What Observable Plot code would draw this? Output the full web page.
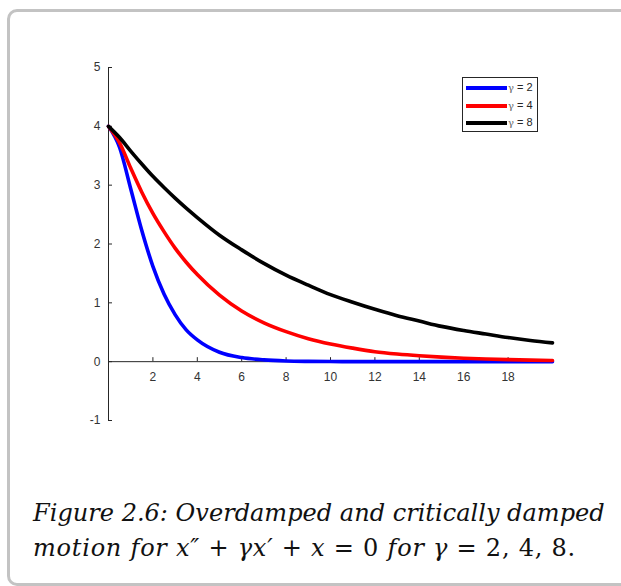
<!DOCTYPE html>
<html>
<head>
<meta charset="utf-8">
<script src="https://cdn.jsdelivr.net/npm/d3@7"></script>
<script src="https://cdn.jsdelivr.net/npm/@observablehq/plot@0.6"></script>
<style>
  html, body { margin: 0; padding: 0; background: #fff; width: 621px; height: 586px; overflow: hidden; }
  #clip { position: absolute; left: 0; top: 0; width: 621px; height: 586px; overflow: hidden; }
  #frame { position: absolute; left: 7px; top: 9px; width: 680px; height: 577px; box-sizing: border-box;
           border: 3px solid #c3c3c3; border-radius: 10px; }
  #chart { position: absolute; left: 0; top: 0; }
  #legend { position: absolute; left: 462px; top: 77px; width: 76px; height: 55px; box-sizing: border-box;
            border: 1px solid #262626; background: #fff; font: 11px "Liberation Sans", Arial, sans-serif; color: #262626; }
  .row { position: absolute; left: 0; height: 10px; }
  .sw { position: absolute; left: 3px; width: 41px; height: 4px; }
  .lt { position: absolute; left: 45px; top: -5px; white-space: nowrap; line-height: 13px; }
  .lt .g { color: #666; font-family: "DejaVu Serif", serif; font-size: 10px; }
  .cap { position: absolute; left: 33px; white-space: nowrap; font-family: "DejaVu Serif", serif; font-size: 20px;
         line-height: 20px; color: #111; }
  .cap i { font-style: italic; }
  .cap .u { font-style: normal; }
</style>
</head>
<body>
<div id="clip"><div id="frame"></div></div>
<div id="chart"></div>
<div id="legend"></div>
<div class="cap" id="cap1"><i>Figure 2.6: Overdamped and critically damped</i></div>
<div class="cap" id="cap2"><i>motion for x″</i><span class="u"> + </span><i>γx′</i><span class="u"> + </span><i>x</i><span class="u"> = 0 </span><i>for γ</i><span class="u"> = 2, 4, 8.</span></div>
<script>
// time samples (x axis)
const t = [0, 0.5, 1, 1.5, 2, 2.5, 3, 3.5, 4, 5, 6, 7, 8, 9, 10, 11, 12, 13, 14, 15, 16, 17, 18, 19, 20];
// curve values
const gamma2 = [4, 3.64, 2.94, 2.23, 1.62, 1.15, 0.80, 0.54, 0.37, 0.16, 0.07, 0.03, 0.012, 0.005, 0.002, 0.001, 0, 0, 0, 0, 0, 0, 0, 0, 0];
const gamma4 = [4, 3.72, 3.29, 2.88, 2.52, 2.21, 1.93, 1.69, 1.48, 1.13, 0.86, 0.66, 0.51, 0.39, 0.30, 0.23, 0.17, 0.13, 0.10, 0.077, 0.059, 0.045, 0.035, 0.027, 0.020];
const gamma8 = [4, 3.81, 3.58, 3.36, 3.15, 2.96, 2.78, 2.61, 2.45, 2.15, 1.90, 1.67, 1.47, 1.30, 1.14, 1.01, 0.89, 0.78, 0.69, 0.60, 0.53, 0.47, 0.41, 0.36, 0.32];
const seriesLabels = ["γ = 2", "γ = 4", "γ = 8"];
const seriesColors = ["#0000ff", "#ff0000", "#000000"];
const xTicks = [2, 4, 6, 8, 10, 12, 14, 16, 18];
const yTicks = [-1, 0, 1, 2, 3, 4, 5];

const seriesValues = [gamma2, gamma4, gamma8];
const rows = [];
seriesValues.forEach((vals, s) => t.forEach((ti, i) => rows.push({t: ti, v: vals[i], g: seriesLabels[s]})));

const W = 621, H = 586, mT = 67, mB = 166, mL = 108, mR = 69;
const yUnit = (H - mT - mB) / (yTicks[yTicks.length - 1] - yTicks[0]);
const axisColor = "#262626";

const chart = Plot.plot({
  width: W, height: H,
  marginTop: mT, marginBottom: mB, marginLeft: mL, marginRight: mR,
  style: {background: "transparent", fontFamily: "'Liberation Sans', Arial, sans-serif", fontSize: "12px", color: "#333"},
  x: {domain: [0, 20], label: null},
  y: {domain: [-1, 5], label: null},
  color: {domain: seriesLabels, range: seriesColors},
  marks: [
    Plot.ruleX([0], {stroke: axisColor, strokeWidth: 1}),
    Plot.ruleY([0], {stroke: axisColor, strokeWidth: 1}),
    Plot.axisY(yTicks, {anchor: "left", tickSize: -4, tickPadding: 12, stroke: axisColor, label: null, tickFormat: d => d}),
    Plot.axisX(xTicks, {anchor: "bottom", tickSize: -4, tickPadding: 15, dy: -yUnit, stroke: axisColor, label: null, tickFormat: d => d}),
    Plot.line(rows, {x: "t", y: "v", z: "g", stroke: "g", strokeWidth: 3.6, curve: "monotone-x"})
  ]
});
document.getElementById("chart").appendChild(chart);

// legend
const lg = document.getElementById("legend");
const rowCenters = [10, 27.5, 45];
seriesLabels.forEach((lab, i) => {
  const r = document.createElement("div");
  r.className = "row";
  r.style.top = (rowCenters[i] - 2) + "px";
  const sw = document.createElement("div");
  sw.className = "sw";
  sw.style.background = seriesColors[i];
  const tx = document.createElement("div");
  tx.className = "lt";
  const parts = lab.split(" = ");
  tx.innerHTML = '<span class="g">' + parts[0] + '</span> = ' + parts[1];
  r.appendChild(sw); r.appendChild(tx);
  lg.appendChild(r);
});

// caption: scale font so line 1 spans its width, then fit line 2 with spacing
const c1 = document.getElementById("cap1"), c2 = document.getElementById("cap2");
const w1 = c1.getBoundingClientRect().width;
const fs = 20 * 572 / w1;
[c1, c2].forEach(el => { el.style.fontSize = fs + "px"; el.style.lineHeight = fs + "px"; });
c1.style.top = (521 - 0.85 * fs) + "px";
c2.style.top = (556 - 0.85 * fs) + "px";
const w2 = c2.getBoundingClientRect().width;
c2.style.letterSpacing = ((543 - w2) / c2.textContent.length) + "px";
</script>
</body>
</html>
